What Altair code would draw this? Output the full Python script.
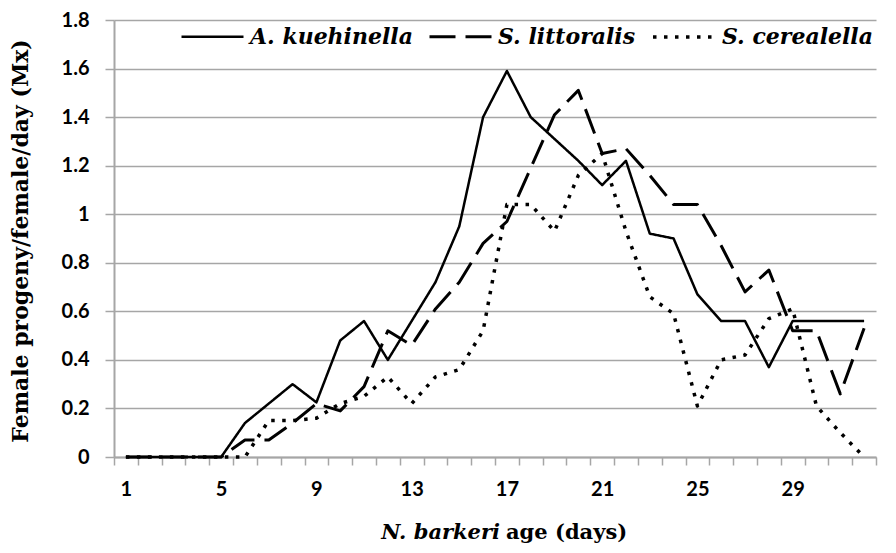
import altair as alt
import pandas as pd

days = list(range(1, 33))
kuehniella = [0, 0, 0, 0, 0, 0.14, 0.22, 0.30, 0.225, 0.48, 0.56, 0.40, 0.56, 0.72, 0.95, 1.40,
              1.59, 1.40, 1.31, 1.22, 1.12, 1.22, 0.92, 0.90, 0.67, 0.56, 0.56, 0.37, 0.56, 0.56, 0.56, 0.56]
littoralis = [0, 0, 0, 0, 0, 0.07, 0.07, 0.14, 0.22, 0.19, 0.29, 0.52, 0.46, 0.61, 0.72, 0.88,
              0.97, 1.19, 1.41, 1.51, 1.25, 1.27, 1.16, 1.04, 1.04, 0.87, 0.68, 0.77, 0.52, 0.52, 0.26, 0.53]
cerealella = [0, 0, 0, 0, 0, 0, 0.15, 0.15, 0.16, 0.22, 0.25, 0.33, 0.22, 0.33, 0.36, 0.52,
              1.04, 1.04, 0.93, 1.16, 1.25, 0.93, 0.66, 0.59, 0.21, 0.40, 0.42, 0.57, 0.61, 0.21, 0.10, 0]
series = ["A. kuehinella", "S. littoralis", "S. cerealella"]
y_ticks = [0, 0.2, 0.4, 0.6, 0.8, 1.0, 1.2, 1.4, 1.6, 1.8]

rows = []
for name, vals in zip(series, [kuehniella, littoralis, cerealella]):
    for d, v in zip(days, vals):
        rows.append({"day": d, "value": v, "series": name})
df = pd.DataFrame(rows)

tick_positions = [d - 0.5 for d in days] + [days[-1] + 0.5]

W, H = 762, 437
TOP = 12
GREY = "#a6a6a6"

xscale = alt.Scale(domain=[0.5, 32.5], nice=False, zero=False)
yscale = alt.Scale(domain=[0, 1.8], nice=False, zero=True)

legend = alt.Legend(title=None, orient="none", legendX=66, legendY=-16,
                    direction="horizontal", symbolType="stroke",
                    symbolSize=3844, labelFont="DejaVu Serif",
                    labelFontStyle="italic", labelFontWeight="bold",
                    labelFontSize=22, labelColor="black", labelLimit=400,
                    labelOffset=5, columnPadding=10,
                    symbolStrokeColor="black")

lines = alt.Chart(df).mark_line(color="black", strokeCap="butt", strokeJoin="round").encode(
    x=alt.X("day:Q", scale=xscale,
            axis=alt.Axis(values=tick_positions, grid=False, tickSize=8, labelOffset=W / 64,
                          labelExpr="(datum.value + 0.5 - 1) % 4 == 0 && datum.value < 32 ? format(datum.value + 0.5, 'd') : ''",
                          labelOverlap=False, labelBound=False, labelFlush=False,
                          labelPadding=14, title=None)),
    y=alt.Y("value:Q", scale=yscale,
            axis=alt.Axis(values=y_ticks, format=".1~f", tickSize=9, labelPadding=16,
                          title="Female progeny/female/day (Mx)",
                          titleX=-94, titleY=H / 2 + 2, titleAngle=-90, titleBaseline="middle",
                          titleAlign="center")),
    strokeDash=alt.StrokeDash("series:N", sort=series,
                              scale=alt.Scale(domain=series, range=[[1, 0], [26, 10], [3.5, 7.5]]),
                              legend=legend),
    strokeWidth=alt.StrokeWidth("series:N", sort=series,
                                scale=alt.Scale(domain=series, range=[2.5, 3.5, 4]),
                                legend=legend),
)

t1 = alt.Chart(pd.DataFrame({"t": ["N. barkeri"]})).mark_text(
    font="DejaVu Serif", fontSize=21, fontWeight="bold", fontStyle="italic",
    align="right", baseline="middle", color="black").encode(
    x=alt.value(386), y=alt.value(513), text="t:N")
t2 = alt.Chart(pd.DataFrame({"t": ["age (days)"]})).mark_text(
    font="DejaVu Serif", fontSize=21, fontWeight="bold",
    align="left", baseline="middle", color="black").encode(
    x=alt.value(392), y=alt.value(513), text="t:N")

chart = alt.layer(lines, t1, t2).properties(
    width=W, height=H,
    autosize=alt.AutoSizeParams(type="none"),
    padding={"left": 106, "top": TOP, "right": 12, "bottom": 88},
    background="white",
).configure_view(stroke=None).configure_axis(
    gridColor=GREY, gridWidth=1.5, domainColor=GREY, domainWidth=2, tickColor=GREY, tickWidth=1.5,
    labelFont="Lato", labelFontWeight="bold", labelFontSize=20, labelColor="black",
    titleFont="DejaVu Serif", titleFontWeight="bold", titleFontSize=22, titleColor="black",
)

chart.save("out.html", embed_options={"renderer": "svg", "actions": False})
